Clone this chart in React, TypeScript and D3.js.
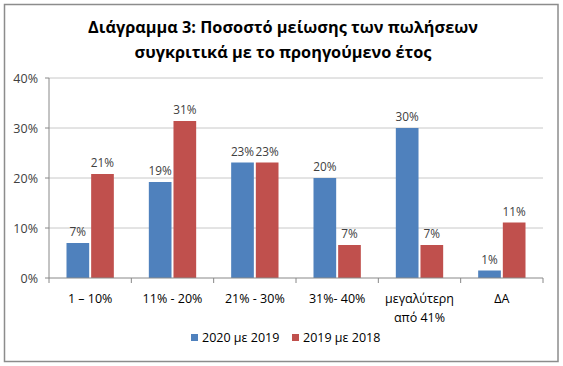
import React from 'react';
import * as d3 from 'd3';

const W = 563;
const H = 366;

const categories = ['1 – 10%', '11% - 20%', '21% - 30%', '31%- 40%', 'μεγαλύτερη\nαπό 41%', 'ΔΑ'];
const series2020 = [7.0, 19.2, 23.1, 20.0, 30.0, 1.5];
const series2019 = [20.8, 31.4, 23.1, 6.6, 6.6, 11.1];
const labels2020 = ['7%', '19%', '23%', '20%', '30%', '1%'];
const labels2019 = ['21%', '31%', '23%', '7%', '7%', '11%'];
const yTicks = [0, 10, 20, 30, 40];
const seriesNames = ['2020 με 2019', '2019 με 2018'];
const colors = ['#4F81BD', '#C0504D'];

const FONT = "'Open Sans', 'Noto Sans', sans-serif";

const App: React.FC = () => {
  const left = 49;
  const right = 543;
  const top = 78;
  const bottom = 278;

  const x = d3.scaleBand<string>().domain(categories).range([left, right]).paddingInner(0.425).paddingOuter(0.2125);
  const y = d3.scaleLinear().domain([0, 40]).range([bottom, top]);
  const inner = d3.scaleBand<number>().domain([0, 1]).range([0, x.bandwidth()]).paddingInner(0.08);

  const series = [series2020, series2019];
  const labels = [labels2020, labels2019];
  const step = x.step();

  return (
    <svg width={W} height={H} style={{ position: 'absolute', left: 0, top: 0 }} fontFamily={FONT}>
      <rect x={0} y={0} width={W} height={H} fill="#fff" />
      <rect x={4.5} y={4.5} width={553.5} height={357} fill="#fff" stroke="#8c8c8c" strokeWidth={1.5} />

      <text x={283} y={33} textAnchor="middle" fontSize={16.3} fontWeight="bold" fill="#000">
        Διάγραμμα 3: Ποσοστό μείωσης των πωλήσεων
      </text>
      <text x={283} y={58} textAnchor="middle" fontSize={16.3} fontWeight="bold" fill="#000">
        συγκριτικά με το προηγούμενο έτος
      </text>

      {yTicks.map((t) => (
        <g key={t}>
          {t > 0 && <line x1={left} x2={right} y1={y(t)} y2={y(t)} stroke="#c8c8c8" strokeWidth={1} />}
          <line x1={left - 4} x2={left} y1={y(t)} y2={y(t)} stroke="#888" />
          <text x={38} y={y(t) + 4.5} textAnchor="end" fontSize={12.5} fill="#404040">
            {t}%
          </text>
        </g>
      ))}

      {categories.map((c, i) => (
        <g key={c}>
          {series.map((s, k) => {
            const bx = (x(c) as number) + (inner(k) as number);
            return (
              <g key={k}>
                <rect x={bx} y={y(s[i])} width={inner.bandwidth()} height={bottom - y(s[i])} fill={colors[k]} />
                <text x={bx + inner.bandwidth() / 2} y={y(s[i]) - 7} textAnchor="middle" fontSize={11.8} fill="#404040">
                  {labels[k][i]}
                </text>
              </g>
            );
          })}
          {c.split('\n').map((line, j) => (
            <text key={j} x={(x(c) as number) + x.bandwidth() / 2} y={303 + j * 19} textAnchor="middle" fontSize={12.5} fill="#000">
              {line}
            </text>
          ))}
        </g>
      ))}

      <line x1={left} x2={right} y1={bottom} y2={bottom} stroke="#888" />
      <line x1={left} x2={left} y1={top} y2={bottom} stroke="#888" />
      {d3.range(categories.length + 1).map((i) => (
        <line key={i} x1={left + i * step} x2={left + i * step} y1={bottom} y2={bottom + 5} stroke="#888" />
      ))}

      {seriesNames.map((n, k) => (
        <g key={n} transform={`translate(${191 + k * 101},0)`}>
          <rect x={0} y={334} width={7} height={7} fill={colors[k]} />
          <text x={11} y={342} fontSize={12.5} fill="#000">
            {n}
          </text>
        </g>
      ))}
    </svg>
  );
};

export default App;
